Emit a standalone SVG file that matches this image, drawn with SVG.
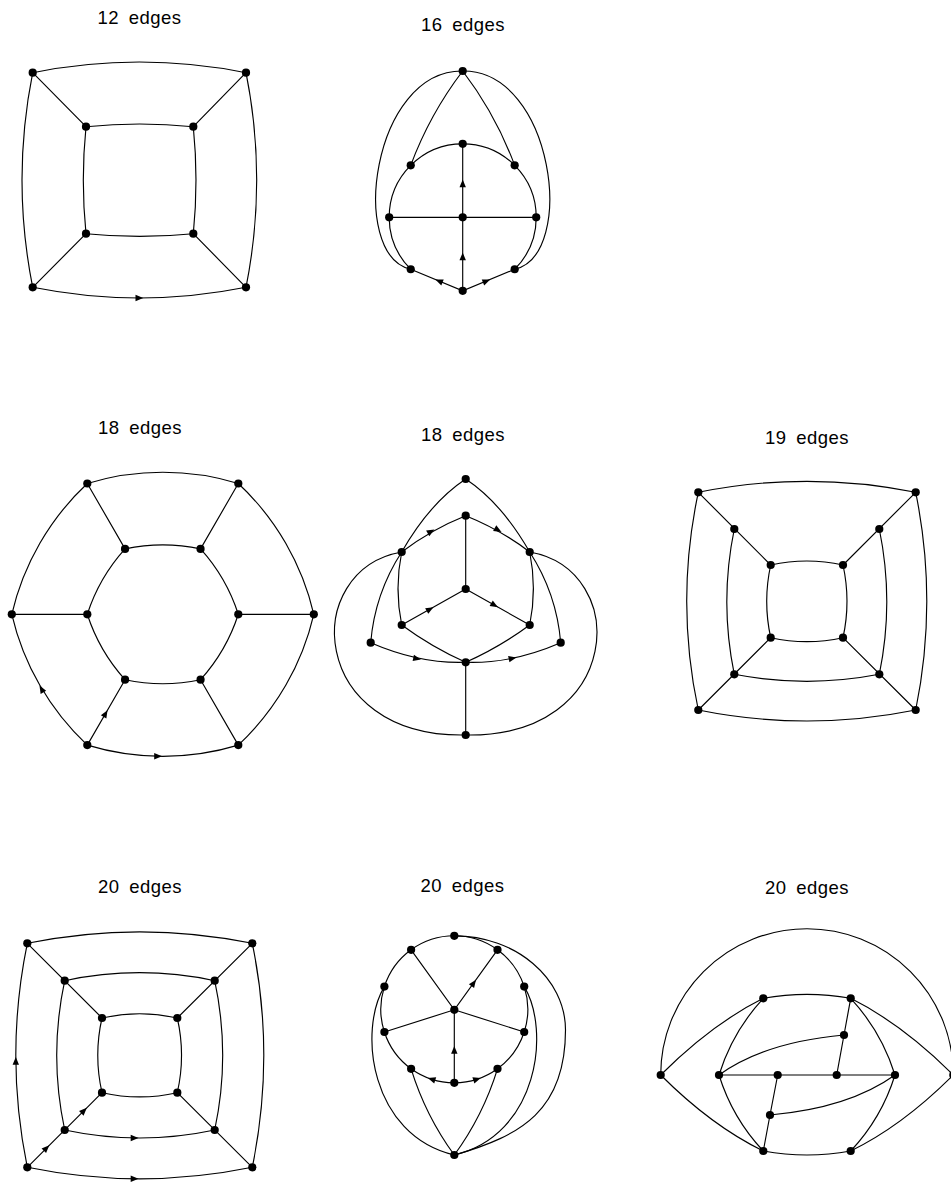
<svg xmlns="http://www.w3.org/2000/svg" width="951" height="1182" viewBox="0 0 951 1182">
<style>
.e{fill:none;stroke:#000;stroke-width:1.15}
.n{fill:#000}
.t{font-family:"Liberation Sans",Arial,sans-serif;font-size:18.5px;letter-spacing:0.5px;word-spacing:4px;text-anchor:middle;fill:#000}
.a{fill:#000}
</style>
<defs>
<path id="ah" d="M4,0 L-3.8,-3.2 L-3.8,3.2 Z"/>
</defs>
<rect width="951" height="1182" fill="#fff"/>

<!-- Diagram 1 -->
<g id="d1">
<text class="t" x="139.5" y="24">12 edges</text>
<g id="d1-edges">
<path class="e" d="M32.7,72.7 Q139.35,51.3 246,72.7"/>
<path class="e" d="M32.7,287.3 Q139.35,308.7 246,287.3"/>
<path class="e" d="M32.7,72.7 Q11.3,180 32.7,287.3"/>
<path class="e" d="M246,72.7 Q267.4,180 246,287.3"/>
<path class="e" d="M86,126.7 Q139.65,121.3 193.3,126.7"/>
<path class="e" d="M86,233.7 Q139.65,239.1 193.3,233.7"/>
<path class="e" d="M86,126.7 Q80.6,180.2 86,233.7"/>
<path class="e" d="M193.3,126.7 Q198.7,180.2 193.3,233.7"/>
<path class="e" d="M32.7,72.7 L86,126.7 M246,72.7 L193.3,126.7 M32.7,287.3 L86,233.7 M246,287.3 L193.3,233.7"/>
<use href="#ah" class="a" transform="translate(139.3,298) rotate(0)"/>
</g>
<g id="d1-n1"><circle class="n" cx="32.7" cy="72.7" r="4.1"/></g>
<g id="d1-n2"><circle class="n" cx="246" cy="72.7" r="4.1"/></g>
<g id="d1-n3"><circle class="n" cx="32.7" cy="287.3" r="4.1"/></g>
<g id="d1-n4"><circle class="n" cx="246" cy="287.3" r="4.1"/></g>
<g id="d1-n5"><circle class="n" cx="86" cy="126.7" r="4.1"/></g>
<g id="d1-n6"><circle class="n" cx="193.3" cy="126.7" r="4.1"/></g>
<g id="d1-n7"><circle class="n" cx="86" cy="233.7" r="4.1"/></g>
<g id="d1-n8"><circle class="n" cx="193.3" cy="233.7" r="4.1"/></g>
</g>

<!-- Diagram 2 -->
<g id="d2">
<text class="t" x="463" y="31">16 edges</text>
<g id="d2-edges">
<path class="e" d="M462.7,71 Q429.7,114.3 410.73,165.33"/>
<path class="e" d="M462.7,71 Q495.7,114.3 514.67,165.33"/>
<path class="e" d="M462.7,71 C372,70 348,255 410.73,269.27"/>
<path class="e" d="M462.7,71 C553.4,70 577.4,255 514.67,269.27"/>
<path class="e" d="M389.2,217.3 A73.5,73.5 0 0 1 410.73,165.33 A73.5,73.5 0 0 1 462.7,143.8 A73.5,73.5 0 0 1 514.67,165.33 A73.5,73.5 0 0 1 536.2,217.3 A73.5,73.5 0 0 1 514.67,269.27"/>
<path class="e" d="M410.73,269.27 A73.5,73.5 0 0 1 389.2,217.3"/>
<path class="e" d="M389.2,217.3 L536.2,217.3"/>
<path class="e" d="M462.7,143.8 L462.7,290.8"/>
<path class="e" d="M410.73,269.27 L462.7,290.8 L514.67,269.27"/>
<use href="#ah" class="a" transform="translate(462.7,183.5) rotate(-90)"/>
<use href="#ah" class="a" transform="translate(462.7,256.5) rotate(-90)"/>
<use href="#ah" class="a" transform="translate(439,281) rotate(-157.5)"/>
<use href="#ah" class="a" transform="translate(486.5,281) rotate(-22.5)"/>
</g>
<g id="d2-n1"><circle class="n" cx="462.7" cy="71" r="4.1"/></g>
<g id="d2-n2"><circle class="n" cx="462.7" cy="143.8" r="4.1"/></g>
<g id="d2-n3"><circle class="n" cx="410.73" cy="165.33" r="4.1"/></g>
<g id="d2-n4"><circle class="n" cx="514.67" cy="165.33" r="4.1"/></g>
<g id="d2-n5"><circle class="n" cx="389.2" cy="217.3" r="4.1"/></g>
<g id="d2-n6"><circle class="n" cx="462.7" cy="217.3" r="4.1"/></g>
<g id="d2-n7"><circle class="n" cx="536.2" cy="217.3" r="4.1"/></g>
<g id="d2-n8"><circle class="n" cx="410.73" cy="269.27" r="4.1"/></g>
<g id="d2-n9"><circle class="n" cx="514.67" cy="269.27" r="4.1"/></g>
<g id="d2-n10"><circle class="n" cx="462.7" cy="290.8" r="4.1"/></g>
</g>

<!-- Diagram 3 -->
<g id="d3">
<text class="t" x="140" y="434">18 edges</text>
<g id="d3-edges">
<path class="e" d="M313.8,614.3 A260,260 0 0 1 238.3,745.1 A260,260 0 0 1 87.3,745.1 A260,260 0 0 1 11.8,614.3 A260,260 0 0 1 87.3,483.5 A260,260 0 0 1 238.3,483.5 A260,260 0 0 1 313.8,614.3"/>
<path class="e" d="M238.3,614.3 A180,180 0 0 1 200.55,679.7 A180,180 0 0 1 125.05,679.7 A180,180 0 0 1 87.3,614.3 A180,180 0 0 1 125.05,548.9 A180,180 0 0 1 200.55,548.9 A180,180 0 0 1 238.3,614.3"/>
<path class="e" d="M313.8,614.3 L238.3,614.3 M238.3,745.1 L200.55,679.7 M87.3,745.1 L125.05,679.7 M11.8,614.3 L87.3,614.3 M87.3,483.5 L125.05,548.9 M238.3,483.5 L200.55,548.9"/>
<use href="#ah" class="a" transform="translate(41.5,689) rotate(-120)"/>
<use href="#ah" class="a" transform="translate(105.5,713.6) rotate(-60)"/>
<use href="#ah" class="a" transform="translate(158,756.2) rotate(0)"/>
</g>
<g id="d3-n1"><circle class="n" cx="313.8" cy="614.3" r="4.1"/></g>
<g id="d3-n2"><circle class="n" cx="238.3" cy="745.1" r="4.1"/></g>
<g id="d3-n3"><circle class="n" cx="87.3" cy="745.1" r="4.1"/></g>
<g id="d3-n4"><circle class="n" cx="11.8" cy="614.3" r="4.1"/></g>
<g id="d3-n5"><circle class="n" cx="87.3" cy="483.5" r="4.1"/></g>
<g id="d3-n6"><circle class="n" cx="238.3" cy="483.5" r="4.1"/></g>
<g id="d3-n7"><circle class="n" cx="238.3" cy="614.3" r="4.1"/></g>
<g id="d3-n8"><circle class="n" cx="200.55" cy="679.7" r="4.1"/></g>
<g id="d3-n9"><circle class="n" cx="125.05" cy="679.7" r="4.1"/></g>
<g id="d3-n10"><circle class="n" cx="87.3" cy="614.3" r="4.1"/></g>
<g id="d3-n11"><circle class="n" cx="125.05" cy="548.9" r="4.1"/></g>
<g id="d3-n12"><circle class="n" cx="200.55" cy="548.9" r="4.1"/></g>
</g>

<!-- Diagram 4 -->
<g id="d4">
<text class="t" x="463" y="441">18 edges</text>
<g id="d4-edges">
<path class="e" d="M465.7,479 Q429.8,502.9 401.7,552"/>
<path class="e" d="M465.7,479 Q501.6,502.9 529.7,552"/>
<path class="e" d="M401.7,552 Q431.2,529.5 465.7,515.7"/>
<path class="e" d="M465.7,515.7 Q500.2,529.5 529.7,552"/>
<path class="e" d="M465.7,515.7 L465.7,589 M465.7,589 L401.7,625 M465.7,589 L529.7,625 M465.7,662.3 L465.7,735"/>
<path class="e" d="M401.7,552 Q394.3,588.5 401.7,625"/>
<path class="e" d="M529.7,552 Q537.1,588.5 529.7,625"/>
<path class="e" d="M401.7,552 Q374.8,593.5 370.7,642.7"/>
<path class="e" d="M529.7,552 Q556.6,593.5 560.7,642.7"/>
<path class="e" d="M401.7,625 Q431.7,647.1 465.7,662.3"/>
<path class="e" d="M529.7,625 Q499.7,647.1 465.7,662.3"/>
<path class="e" d="M370.7,642.7 Q420,664 465.7,662.3"/>
<path class="e" d="M465.7,662.3 Q511.4,664 560.7,642.7"/>
<path class="e" d="M401.7,552 C300,570 308,738 465.7,735"/>
<path class="e" d="M529.7,552 C631.4,570 623.4,738 465.7,735"/>
<use href="#ah" class="a" transform="translate(431,531.5) rotate(-29.6)"/>
<use href="#ah" class="a" transform="translate(498,530) rotate(29.6)"/>
<use href="#ah" class="a" transform="translate(430,609.1) rotate(-29.4)"/>
<use href="#ah" class="a" transform="translate(494.5,605.2) rotate(29.4)"/>
<use href="#ah" class="a" transform="translate(417,658.6) rotate(11.7)"/>
<use href="#ah" class="a" transform="translate(512.5,658.3) rotate(-11.7)"/>
</g>
<g id="d4-n1"><circle class="n" cx="465.7" cy="479" r="4.1"/></g>
<g id="d4-n2"><circle class="n" cx="465.7" cy="515.7" r="4.1"/></g>
<g id="d4-n3"><circle class="n" cx="401.7" cy="552" r="4.1"/></g>
<g id="d4-n4"><circle class="n" cx="529.7" cy="552" r="4.1"/></g>
<g id="d4-n5"><circle class="n" cx="465.7" cy="589" r="4.1"/></g>
<g id="d4-n6"><circle class="n" cx="401.7" cy="625" r="4.1"/></g>
<g id="d4-n7"><circle class="n" cx="529.7" cy="625" r="4.1"/></g>
<g id="d4-n8"><circle class="n" cx="370.7" cy="642.7" r="4.1"/></g>
<g id="d4-n9"><circle class="n" cx="560.7" cy="642.7" r="4.1"/></g>
<g id="d4-n10"><circle class="n" cx="465.7" cy="662.3" r="4.1"/></g>
<g id="d4-n11"><circle class="n" cx="465.7" cy="735" r="4.1"/></g>
</g>

<!-- Diagram 5 -->
<g id="d5">
<text class="t" x="807" y="444">19 edges</text>
<g id="d5-edges">
<path class="e" d="M698.3,492.3 Q807,470.3 915.7,492.3"/>
<path class="e" d="M698.3,710 Q807,732 915.7,710"/>
<path class="e" d="M698.3,492.3 Q675.1,601.15 698.3,710"/>
<path class="e" d="M915.7,492.3 Q937.9,601.15 915.7,710"/>
<path class="e" d="M734.3,529 Q719.3,601.65 734.3,674.3"/>
<path class="e" d="M879.3,529 Q894.3,601.65 879.3,674.3"/>
<path class="e" d="M734.3,674.3 Q806.8,688.3 879.3,674.3"/>
<path class="e" d="M770.7,565 Q806.85,557 843,565"/>
<path class="e" d="M770.7,637.7 Q806.85,645.7 843,637.7"/>
<path class="e" d="M770.7,565 Q762.7,601.35 770.7,637.7"/>
<path class="e" d="M843,565 Q851,601.35 843,637.7"/>
<path class="e" d="M698.3,492.3 L770.7,565 M915.7,492.3 L843,565 M698.3,710 L770.7,637.7 M915.7,710 L843,637.7"/>
</g>
<g id="d5-n1"><circle class="n" cx="698.3" cy="492.3" r="4.1"/></g>
<g id="d5-n2"><circle class="n" cx="915.7" cy="492.3" r="4.1"/></g>
<g id="d5-n3"><circle class="n" cx="698.3" cy="710" r="4.1"/></g>
<g id="d5-n4"><circle class="n" cx="915.7" cy="710" r="4.1"/></g>
<g id="d5-n5"><circle class="n" cx="734.3" cy="529" r="4.1"/></g>
<g id="d5-n6"><circle class="n" cx="879.3" cy="529" r="4.1"/></g>
<g id="d5-n7"><circle class="n" cx="734.3" cy="674.3" r="4.1"/></g>
<g id="d5-n8"><circle class="n" cx="879.3" cy="674.3" r="4.1"/></g>
<g id="d5-n9"><circle class="n" cx="770.7" cy="565" r="4.1"/></g>
<g id="d5-n10"><circle class="n" cx="843" cy="565" r="4.1"/></g>
<g id="d5-n11"><circle class="n" cx="770.7" cy="637.7" r="4.1"/></g>
<g id="d5-n12"><circle class="n" cx="843" cy="637.7" r="4.1"/></g>
</g>

<!-- Diagram 6 -->
<g id="d6">
<text class="t" x="140" y="893">20 edges</text>
<g id="d6-edges">
<path class="e" d="M27.3,943.3 Q139.8,920.3 252.3,943.3"/>
<path class="e" d="M27.3,1167.3 Q139.8,1190.3 252.3,1167.3"/>
<path class="e" d="M27.3,943.3 Q4.3,1055.3 27.3,1167.3"/>
<path class="e" d="M252.3,943.3 Q275.3,1055.3 252.3,1167.3"/>
<path class="e" d="M64.7,980.7 Q139.7,964.7 214.7,980.7"/>
<path class="e" d="M64.7,1130 Q139.7,1146 214.7,1130"/>
<path class="e" d="M64.7,980.7 Q48.7,1055.35 64.7,1130"/>
<path class="e" d="M214.7,980.7 Q230.7,1055.35 214.7,1130"/>
<path class="e" d="M102,1018 Q139.65,1009.5 177.3,1018"/>
<path class="e" d="M102,1092.7 Q139.65,1101.2 177.3,1092.7"/>
<path class="e" d="M102,1018 Q93.5,1055.35 102,1092.7"/>
<path class="e" d="M177.3,1018 Q185.8,1055.35 177.3,1092.7"/>
<path class="e" d="M27.3,943.3 L102,1018 M252.3,943.3 L177.3,1018 M27.3,1167.3 L102,1092.7 M252.3,1167.3 L177.3,1092.7"/>
<use href="#ah" class="a" transform="translate(15.8,1061) rotate(-90)"/>
<use href="#ah" class="a" transform="translate(46.5,1148.1) rotate(-45)"/>
<use href="#ah" class="a" transform="translate(84,1110.7) rotate(-45)"/>
<use href="#ah" class="a" transform="translate(134.5,1138) rotate(0)"/>
<use href="#ah" class="a" transform="translate(134.5,1178.7) rotate(0)"/>
</g>
<g id="d6-n1"><circle class="n" cx="27.3" cy="943.3" r="4.1"/></g>
<g id="d6-n2"><circle class="n" cx="252.3" cy="943.3" r="4.1"/></g>
<g id="d6-n3"><circle class="n" cx="27.3" cy="1167.3" r="4.1"/></g>
<g id="d6-n4"><circle class="n" cx="252.3" cy="1167.3" r="4.1"/></g>
<g id="d6-n5"><circle class="n" cx="64.7" cy="980.7" r="4.1"/></g>
<g id="d6-n6"><circle class="n" cx="214.7" cy="980.7" r="4.1"/></g>
<g id="d6-n7"><circle class="n" cx="64.7" cy="1130" r="4.1"/></g>
<g id="d6-n8"><circle class="n" cx="214.7" cy="1130" r="4.1"/></g>
<g id="d6-n9"><circle class="n" cx="102" cy="1018" r="4.1"/></g>
<g id="d6-n10"><circle class="n" cx="177.3" cy="1018" r="4.1"/></g>
<g id="d6-n11"><circle class="n" cx="102" cy="1092.7" r="4.1"/></g>
<g id="d6-n12"><circle class="n" cx="177.3" cy="1092.7" r="4.1"/></g>
</g>

<!-- Diagram 7 -->
<g id="d7">
<text class="t" x="462.5" y="892">20 edges</text>
<g id="d7-edges">
<path class="e" d="M454.3,935.8 A73.5,73.5 0 0 1 497.5,949.8 A73.5,73.5 0 0 1 524.2,986.6 A73.5,73.5 0 0 1 524.2,1032 A73.5,73.5 0 0 1 497.5,1068.8 A73.5,73.5 0 0 1 454.3,1082.8 A73.5,73.5 0 0 1 411.1,1068.8 A73.5,73.5 0 0 1 384.4,1032 A73.5,73.5 0 0 1 384.4,986.6 A73.5,73.5 0 0 1 411.1,949.8 A73.5,73.5 0 0 1 454.3,935.8"/>
<path class="e" d="M411.1,949.8 L454.3,1009.8 L497.5,949.8 M384.4,1032 L454.3,1009.8 L524.2,1032 M454.3,1009.8 L454.3,1082.8"/>
<path class="e" d="M411.1,1068.8 Q425.5,1115.5 454.3,1155"/>
<path class="e" d="M497.5,1068.8 Q483.1,1115.5 454.3,1155"/>
<path class="e" d="M384.4,986.6 C358,1030 370,1135 454.3,1155"/>
<path class="e" d="M524.2,986.6 C550.6,1030 538.6,1135 454.3,1155"/>
<path class="e" d="M454.3,935.8 C515.7,935.8 565.5,978.1 565.5,1030 C565.5,1110 521.6,1135.8 454.3,1155"/>
<use href="#ah" class="a" transform="translate(473.7,983) rotate(-54)"/>
<use href="#ah" class="a" transform="translate(454.3,1050) rotate(-90)"/>
<use href="#ah" class="a" transform="translate(431.6,1079.2) rotate(198)"/>
<use href="#ah" class="a" transform="translate(477,1079.2) rotate(-18)"/>
</g>
<g id="d7-n1"><circle class="n" cx="454.3" cy="935.8" r="4.1"/></g>
<g id="d7-n2"><circle class="n" cx="411.1" cy="949.8" r="4.1"/></g>
<g id="d7-n3"><circle class="n" cx="497.5" cy="949.8" r="4.1"/></g>
<g id="d7-n4"><circle class="n" cx="384.4" cy="986.6" r="4.1"/></g>
<g id="d7-n5"><circle class="n" cx="524.2" cy="986.6" r="4.1"/></g>
<g id="d7-n6"><circle class="n" cx="454.3" cy="1009.8" r="4.1"/></g>
<g id="d7-n7"><circle class="n" cx="384.4" cy="1032" r="4.1"/></g>
<g id="d7-n8"><circle class="n" cx="524.2" cy="1032" r="4.1"/></g>
<g id="d7-n9"><circle class="n" cx="411.1" cy="1068.8" r="4.1"/></g>
<g id="d7-n10"><circle class="n" cx="497.5" cy="1068.8" r="4.1"/></g>
<g id="d7-n11"><circle class="n" cx="454.3" cy="1082.8" r="4.1"/></g>
<g id="d7-n12"><circle class="n" cx="454.3" cy="1155" r="4.1"/></g>
</g>

<!-- Diagram 8 -->
<g id="d8">
<text class="t" x="807" y="894">20 edges</text>
<g id="d8-edges">
<path class="e" d="M660.7,1075 A146.3,146.3 0 0 1 953.3,1075"/>
<path class="e" d="M660.7,1075 Q711.5,1024.2 763.3,998.3"/>
<path class="e" d="M660.7,1075 Q711.5,1125.8 763.3,1151"/>
<path class="e" d="M953.3,1075 Q902.5,1024.2 850.7,998.3"/>
<path class="e" d="M953.3,1075 Q902.5,1125.8 850.7,1151"/>
<path class="e" d="M763.3,998.3 Q807,990.3 850.7,998.3"/>
<path class="e" d="M763.3,1151 Q807,1159 850.7,1151"/>
<path class="e" d="M763.3,998.3 Q732.5,1031.65 719,1075"/>
<path class="e" d="M763.3,1151 Q732.5,1118.35 719,1075"/>
<path class="e" d="M850.7,998.3 Q881.5,1031.65 895,1075"/>
<path class="e" d="M850.7,1151 Q881.5,1118.35 895,1075"/>
<path class="e" d="M719,1075 L895,1075"/>
<path class="e" d="M850.7,998.3 L844,1035 L836.7,1075 M777.7,1075 L770,1115 L763.3,1151"/>
<path class="e" d="M719,1075 Q765,1042 844,1035"/>
<path class="e" d="M770,1115 Q849,1108 895,1075"/>
</g>
<g id="d8-n1"><circle class="n" cx="660.7" cy="1075" r="4.1"/></g>
<g id="d8-n2"><circle class="n" cx="953.3" cy="1075" r="4.1"/></g>
<g id="d8-n3"><circle class="n" cx="763.3" cy="998.3" r="4.1"/></g>
<g id="d8-n4"><circle class="n" cx="850.7" cy="998.3" r="4.1"/></g>
<g id="d8-n5"><circle class="n" cx="719" cy="1075" r="4.1"/></g>
<g id="d8-n6"><circle class="n" cx="895" cy="1075" r="4.1"/></g>
<g id="d8-n7"><circle class="n" cx="777.7" cy="1075" r="4.1"/></g>
<g id="d8-n8"><circle class="n" cx="836.7" cy="1075" r="4.1"/></g>
<g id="d8-n9"><circle class="n" cx="844" cy="1035" r="4.1"/></g>
<g id="d8-n10"><circle class="n" cx="770" cy="1115" r="4.1"/></g>
<g id="d8-n11"><circle class="n" cx="763.3" cy="1151" r="4.1"/></g>
<g id="d8-n12"><circle class="n" cx="850.7" cy="1151" r="4.1"/></g>
</g>
</svg>
